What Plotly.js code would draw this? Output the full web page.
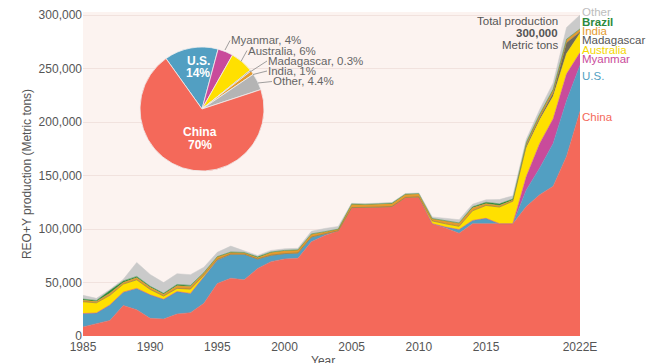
<!DOCTYPE html>
<html><head><meta charset="utf-8">
<script src="https://cdn.plot.ly/plotly-3.0.1.min.js"></script>
<style>html,body{margin:0;padding:0;background:#fff}#chart{width:650px;height:363px}</style>
</head><body><div id="chart"></div>
<script>
// ---- data (metric tons of REO+Y) ----
const years = [1985,1986,1987,1988,1989,1990,1991,1992,1993,1994,1995,1996,1997,1998,1999,2000,2001,2002,2003,2004,2005,2006,2007,2008,2009,2010,2011,2012,2013,2014,2015,2016,2017,2018,2019,2020,2021,2022];
const yearTickVals = [1985,1990,1995,2000,2005,2010,2015,2022];
const yearTickText = ['1985','1990','1995','2000','2005','2010','2015','2022E'];
const yTickVals = [0,50000,100000,150000,200000,250000,300000];

const china      = [8500,11500,14500,28500,24500,16500,15800,20500,21800,30500,49000,54000,52500,63000,69500,72000,72600,88000,94000,98400,120000,120000,120500,121000,129500,130000,105000,101000,96000,105000,105000,105000,105000,121000,132000,140000,168000,210000];
const us         = [12500,10000,14500,12500,20000,22000,18500,21000,18000,24500,22000,22500,24000,9000,6000,5000,5000,4500,1500,0,0,0,0,0,0,0,0,800,3500,3000,5000,0,0,15500,25000,40000,52000,43000];
const myanmar    = [0,0,0,0,0,0,0,0,0,0,0,0,0,0,0,0,0,0,0,0,0,0,0,0,0,0,0,0,0,0,0,0,0,12500,23000,23000,25000,12000];
const australia  = [11000,9500,9000,7500,8000,5000,3000,3000,4000,2000,500,0,0,0,0,0,0,0,0,0,0,0,0,0,0,0,2500,3000,3000,9000,12000,15500,21000,27000,22000,21000,19000,18000];
const madagascar = [0,0,0,0,0,0,0,0,0,0,0,0,0,0,0,0,0,0,0,0,0,0,0,0,0,0,0,0,0,0,0,0,0,2000,2000,3000,10000,1000];
const india      = [1500,1200,2000,1500,2000,2000,1800,2500,2500,2000,2500,1500,1300,1200,2500,2700,2700,2700,2000,1500,3000,2700,2700,2700,2700,2700,2000,2500,2900,2900,1700,1500,1000,1800,2500,2900,2900,2900];
const brazil     = [1000,1000,2500,1500,1200,1000,800,1200,1000,300,200,500,300,800,500,300,200,200,0,0,500,500,500,500,500,500,300,300,300,800,1300,1500,1000,1100,700,600,500,80];
const other      = [3500,2000,1000,1500,13000,11000,10000,10000,10000,5000,4000,5500,1500,1300,1500,1500,1500,2500,3000,2500,500,500,500,500,500,500,1500,2200,3000,2500,2300,4000,3000,3000,4500,6000,11000,13000];

const pieLabels = ['U.S.','Myanmar','Australia','Madagascar','India','Other','China'];
const pieShares = [14,4,6,0.3,1,4.4,70];
const totalProduction = 300000;

// ---- styles ----
const seriesDefs = [
  {name:'China', y:china, color:'#F4695A'},
  {name:'U.S.', y:us, color:'#529FC2'},
  {name:'Myanmar', y:myanmar, color:'#C94B9B'},
  {name:'Australia', y:australia, color:'#FFE000'},
  {name:'Madagascar', y:madagascar, color:'#6F6A58'},
  {name:'India', y:india, color:'#E49A2E'},
  {name:'Brazil', y:brazil, color:'#2E8A3E'},
  {name:'Other', y:other, color:'#CACACA'}
];
const pieColors = ['#529FC2','#C94B9B','#FFE000','#7A7A7A','#E49A2E','#B4B4B4','#F4695A'];

const traces = seriesDefs.map(s => ({
  type:'scatter', x:years, y:s.y, name:s.name, stackgroup:'one', mode:'lines',
  line:{width:0.5, color:s.color, shape:'linear'}, fillcolor:s.color, hoverinfo:'skip'
}));

// plot area in pixels
const L=83, R=580, T=12, B=336;
const px = x => (x-L)/(R-L);
const py = y => (B-y)/(B-T);

traces.push({
  type:'pie', labels:pieLabels, values:pieShares, sort:false, direction:'clockwise', rotation:-35.5,
  marker:{colors:pieColors, line:{color:'#efefef', width:0.8}},
  textinfo:'none', hoverinfo:'skip', showlegend:false,
  domain:{x:[px(140), px(264)], y:[py(171), py(47)]}
});

const grey = '#666';
const annotations = [];
// pie inside labels
[['U.S.',198,61],['14%',198,73],['China',200,132],['70%',200,144.5]].forEach(a=>{
  annotations.push({xref:'paper',yref:'paper',x:px(a[1]),y:py(a[2]),text:'<b>'+a[0]+'</b>',showarrow:false,
    xanchor:'center',yanchor:'middle',font:{size:12,color:'#ffffff'}});
});
// pie outside labels with leader lines: [text, headX, headY, textLeftX, textY]
[
  [pieLabels[1]+', '+pieShares[1]+'%', 225, 50, 230, 40.5],
  [pieLabels[2]+', '+pieShares[2]+'%', 241, 61.5, 247, 50.5],
  [pieLabels[3]+', '+pieShares[3]+'%', 250, 72, 267, 61],
  [pieLabels[4]+', '+pieShares[4]+'%', 253, 74.5, 267, 71],
  [pieLabels[5]+', '+pieShares[5]+'%', 258, 83, 272, 81.5]
].forEach(a=>{
  annotations.push({xref:'paper',yref:'paper',x:px(a[1]),y:py(a[2]),ax:a[3]-a[1],ay:a[4]-a[2],
    text:a[0],showarrow:true,arrowhead:0,arrowwidth:0.8,arrowcolor:'#888',standoff:0,
    xanchor:'left',yanchor:'middle',borderpad:0,font:{size:11.5,color:grey}});
});
// right-side series labels
[
  ['Other',12,'#BDBDBD',false],['Brazil',21.5,'#2E8A3E',true],['India',31,'#E49A2E',false],
  ['Madagascar',40.5,'#555555',false],['Australia',50,'#F5D800',false],['Myanmar',59.5,'#C94B9B',false],
  ['U.S.',76,'#529FC2',false],['China',117,'#F4695A',false]
].forEach(a=>{
  annotations.push({xref:'paper',yref:'paper',x:1,xshift:1,y:py(a[1]),xanchor:'left',yanchor:'middle',
    text:a[3]?'<b>'+a[0]+'</b>':a[0],showarrow:false,borderpad:0,font:{size:11.5,color:a[2]}});
});
// total production
annotations.push({xref:'paper',yref:'paper',x:px(559),y:py(21),xanchor:'right',yanchor:'middle',text:'Total production',showarrow:false,borderpad:0,font:{size:11.5,color:'#555'}});
annotations.push({xref:'paper',yref:'paper',x:px(559),y:py(33),xanchor:'right',yanchor:'middle',text:'<b>'+totalProduction.toLocaleString('en-US')+'</b>',showarrow:false,borderpad:0,font:{size:11.5,color:'#555'}});
annotations.push({xref:'paper',yref:'paper',x:px(559),y:py(44.5),xanchor:'right',yanchor:'middle',text:'Metric tons',showarrow:false,borderpad:0,font:{size:11.5,color:'#555'}});
// x-axis title (sits partly below the bottom edge, as in the reference)
annotations.push({xref:'paper',yref:'paper',x:px(323),y:py(361),xanchor:'center',yanchor:'middle',text:'Year',showarrow:false,font:{size:12,color:'#555'}});

const layout = {
  width:650, height:363, margin:{l:L, r:650-R, t:T, b:363-B},
  paper_bgcolor:'#ffffff', plot_bgcolor:'#FCF3F0',
  font:{family:'Liberation Sans, Arial, sans-serif', size:12, color:'#555'},
  showlegend:false, hovermode:false,
  xaxis:{range:[1985,2022], tickmode:'array', tickvals:yearTickVals, ticktext:yearTickText,
    showgrid:false, zeroline:false, showline:false, ticks:'', ticklabelstandoff:2, tickfont:{size:12,color:'#555'},
    fixedrange:true},
  yaxis:{range:[0,302800], tickmode:'array', tickvals:yTickVals, tickformat:',d',
    showgrid:true, gridcolor:'#F1E2DE', gridwidth:1, zeroline:false, showline:false, ticks:'',
    tickfont:{size:12,color:'#555'}, title:{text:'REO+Y production (Metric tons)', standoff:4, font:{size:12,color:'#555'}}, fixedrange:true},
  annotations:annotations
};
Plotly.newPlot('chart', traces, layout, {staticPlot:true, displayModeBar:false});
</script></body></html>
